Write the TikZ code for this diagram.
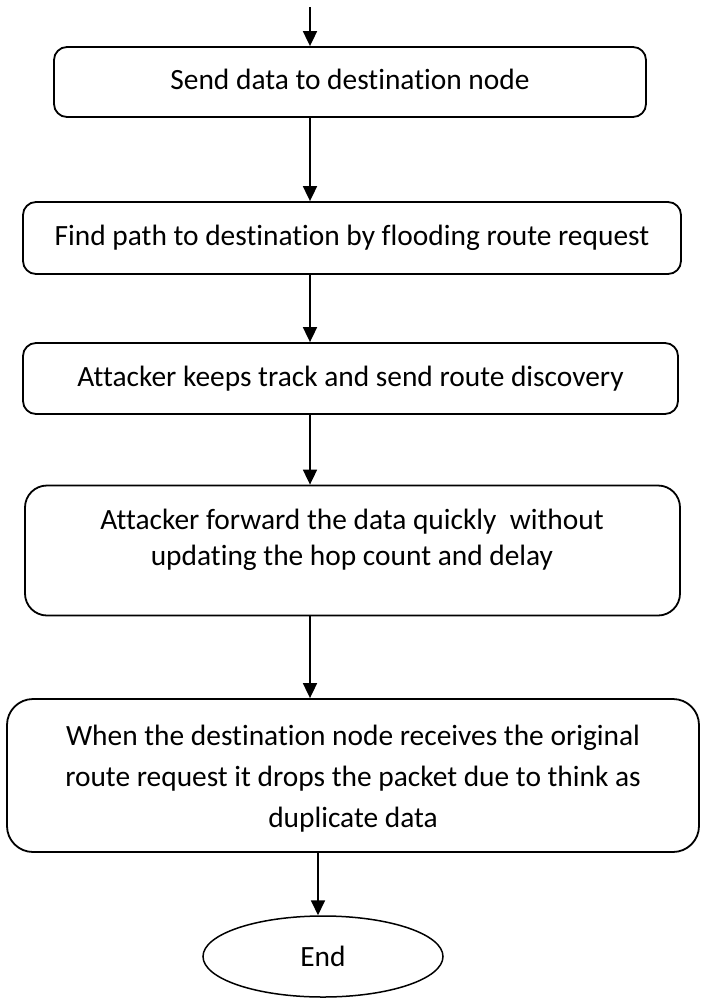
\documentclass[tikz,border=0pt]{standalone}
\usepackage{fontspec}
\setmainfont{Carlito}[Ligatures=NoCommon]
\usetikzlibrary{arrows.meta,shapes.geometric}
\begin{document}
\begin{tikzpicture}[x=1pt,y=-1pt,
  font=\fontsize{29.4}{36}\selectfont,
  stepbox/.style={draw, line width=1.8pt, rounded corners=13pt, inner sep=0pt,
    text height=21pt, text depth=6pt},
  txt/.style={align=center, inner sep=0pt},
  flow/.style={line width=1.8pt, -{Triangle[width=14pt,length=15pt]}}]
\useasboundingbox (0,0) rectangle (704,999);

% process steps
\node[stepbox, minimum width=592pt, minimum height=70pt] (s1) at (350,82)
  {Send data to destination node};
\node[stepbox, minimum width=658pt, minimum height=72pt] (s2) at (352,238)
  {Find path to destination by flooding route request};
\node[stepbox, minimum width=655pt, minimum height=71pt] (s3) at (350.5,378.5)
  {Attacker keeps track and send route discovery};
\node[stepbox, rounded corners=22pt, minimum width=655pt, minimum height=130pt] (s4) at (352.5,550.5) {};
\node[txt] (t4) at (352,540)
  {Attacker forward the data quickly\ \ without\\updating the hop count and delay};
\node[stepbox, rounded corners=26pt, minimum width=692pt, minimum height=153pt] (s5) at (353,775.5) {};
\node[txt, font=\fontsize{29.4}{41}\selectfont] (t5) at (353,779)
  {When the destination node receives the original\\route request it drops the packet due to think as\\duplicate data};

% terminator
\node[draw, ellipse, line width=1.5pt, inner sep=0pt, minimum width=240pt, minimum height=81pt] (fin) at (323,956.5) {End};

% connectors
\coordinate (ax) at (310,0);
\coordinate (bx) at (318,0);
\coordinate (entry) at (310,7);
\draw[flow] (entry) -- (s1.north -| ax);
\draw[flow] (s1.south -| ax) -- (s2.north -| ax);
\draw[flow] (s2.south -| ax) -- (s3.north -| ax);
\draw[flow] (s3.south -| ax) -- (s4.north -| ax);
\draw[flow] (s4.south -| ax) -- (s5.north -| ax);
\draw[flow] (s5.south -| bx) -- (fin.north -| bx);
\end{tikzpicture}
\end{document}
